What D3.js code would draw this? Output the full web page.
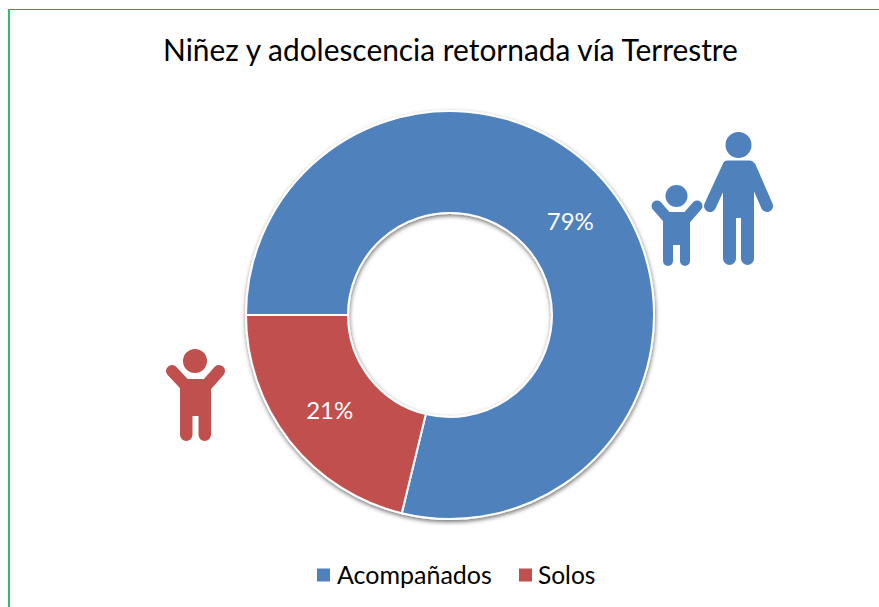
<!DOCTYPE html>
<head>
<meta charset="utf-8">
<style>
body, html {
  margin: 0;
  background: #fff;
  font-family: Lato, "Open Sans", sans-serif;
}
svg {
  display: block;
}
</style>
<script src="https://d3js.org/d3.v7.min.js"></script>
</head>

<body>
<script>

var titleText = "Niñez y adolescencia retornada vía Terrestre";
var categories = ["Acompañados", "Solos"];
var values = [78.8, 21.2];
var colors = ["#4f81bd", "#c0504d"];

var width = 879,
    height = 607,
    cx = 450,
    cy = 315,
    outer = 204,
    inner = 102;

var svg = d3.select("body").append("svg")
    .attr("width", width)
    .attr("height", height);

// soft shadow under the ring
var shadow = svg.append("defs").append("filter")
    .attr("id", "shadow")
    .attr("x", "-10%").attr("y", "-10%")
    .attr("width", "120%").attr("height", "120%");
shadow.append("feDropShadow")
    .attr("dx", 0.5).attr("dy", 2)
    .attr("stdDeviation", 2)
    .attr("flood-color", "#000")
    .attr("flood-opacity", 0.55);

// green frame, only top and left are in the picture
svg.append("line").attr("x1", 8).attr("x2", width).attr("y1", 9.5).attr("y2", 9.5)
    .attr("stroke", "#1fa855").attr("stroke-width", 1);
svg.append("line").attr("x1", 9).attr("x2", 9).attr("y1", 9).attr("y2", height)
    .attr("stroke", "#2bbf6a").attr("stroke-width", 2);

svg.append("text")
    .attr("x", 450.5)
    .attr("y", 61)
    .attr("text-anchor", "middle")
    .attr("font-size", 29.9)
    .attr("fill", "#000")
    .text(titleText);

//--------------------------------------
// donut
var pie = d3.pie()
    .sort(null)
    .startAngle(-Math.PI / 2)
    .endAngle(Math.PI * 1.5);
var arc = d3.arc().innerRadius(inner).outerRadius(outer);
var arcs = pie(values);

var ring = svg.append("g")
    .attr("transform", "translate(" + cx + "," + cy + ")");

ring.append("g")
    .attr("filter", "url(#shadow)")
    .selectAll("path")
    .data(arcs)
    .join("path")
    .attr("d", arc)
    .attr("fill", function(d, i) { return colors[i]; })
    .attr("stroke", "#fff")
    .attr("stroke-width", 2);

ring.selectAll("text")
    .data(arcs)
    .join("text")
    .attr("transform", function(d) {
      var c = arc.centroid(d);
      return "translate(" + c[0] + "," + c[1] + ")";
    })
    .attr("text-anchor", "middle")
    .attr("dy", "0.38em")
    .attr("font-size", 24)
    .attr("fill", "#fff")
    .text(function(d) { return Math.round(d.data) + "%"; });

//--------------------------------------
// pictograms
function figure(color, head, body, arms) {
  var g = svg.append("g").attr("fill", color).attr("stroke", "none");
  g.append("circle").attr("cx", head[0]).attr("cy", head[1]).attr("r", head[2]);
  g.append("path").attr("d", body);
  arms.forEach(function(a) {
    g.append("line")
      .attr("x1", a[0]).attr("y1", a[1]).attr("x2", a[2]).attr("y2", a[3])
      .attr("stroke", color).attr("stroke-width", a[4]).attr("stroke-linecap", "round");
  });
}

function torso(x0, x1, top, crotch, bottom, gap, r) {
  var mid = (x0 + x1) / 2;
  return "M" + x0 + "," + (top + r) +
    "Q" + x0 + "," + top + " " + (x0 + r) + "," + top +
    "L" + (x1 - r) + "," + top +
    "Q" + x1 + "," + top + " " + x1 + "," + (top + r) +
    "L" + x1 + "," + (bottom - (x1 - mid - gap) / 2) +
    "A" + ((x1 - mid - gap) / 2) + " " + ((x1 - mid - gap) / 2) + " 0 0 1 " + (mid + gap) + "," + (bottom - (x1 - mid - gap) / 2) +
    "L" + (mid + gap) + "," + crotch +
    "L" + (mid - gap) + "," + crotch +
    "L" + (mid - gap) + "," + (bottom - (x1 - mid - gap) / 2) +
    "A" + ((x1 - mid - gap) / 2) + " " + ((x1 - mid - gap) / 2) + " 0 0 1 " + x0 + "," + (bottom - (x1 - mid - gap) / 2) +
    "Z";
}

// adult
figure(colors[0], [738.5, 145, 13], torso(723, 754, 160.5, 218, 265, 2.5, 5), [
  [728, 167, 710, 206, 12],
  [750, 167, 767, 206, 12]
]);
// child holding hands
figure(colors[0], [676.5, 196, 11], torso(663, 690, 212, 245, 266, 3.5, 1), [
  [671, 222, 657, 206, 11],
  [683, 222, 697, 206, 11]
]);
// child alone
figure(colors[1], [195, 361, 12], torso(180, 211, 379, 416, 441, 3, 1), [
  [188, 388, 172, 371, 12],
  [204, 388, 219, 371, 12]
]);

//--------------------------------------
// legend
var legendX = [317, 519],
    legendY = 575;
var legendSize = [25, 24.5];

var legend = svg.append("g").selectAll("g")
    .data(categories)
    .join("g")
    .attr("transform", function(d, i) { return "translate(" + legendX[i] + "," + legendY + ")"; });

legend.append("rect")
    .attr("y", -6.5)
    .attr("width", 13)
    .attr("height", 13)
    .attr("fill", function(d, i) { return colors[i]; });

legend.append("text")
    .attr("x", function(d, i) { return i ? 19 : 20; })
    .attr("dy", "0.35em")
    .attr("font-size", function(d, i) { return legendSize[i]; })
    .attr("fill", "#000")
    .text(function(d) { return d; });

</script>
